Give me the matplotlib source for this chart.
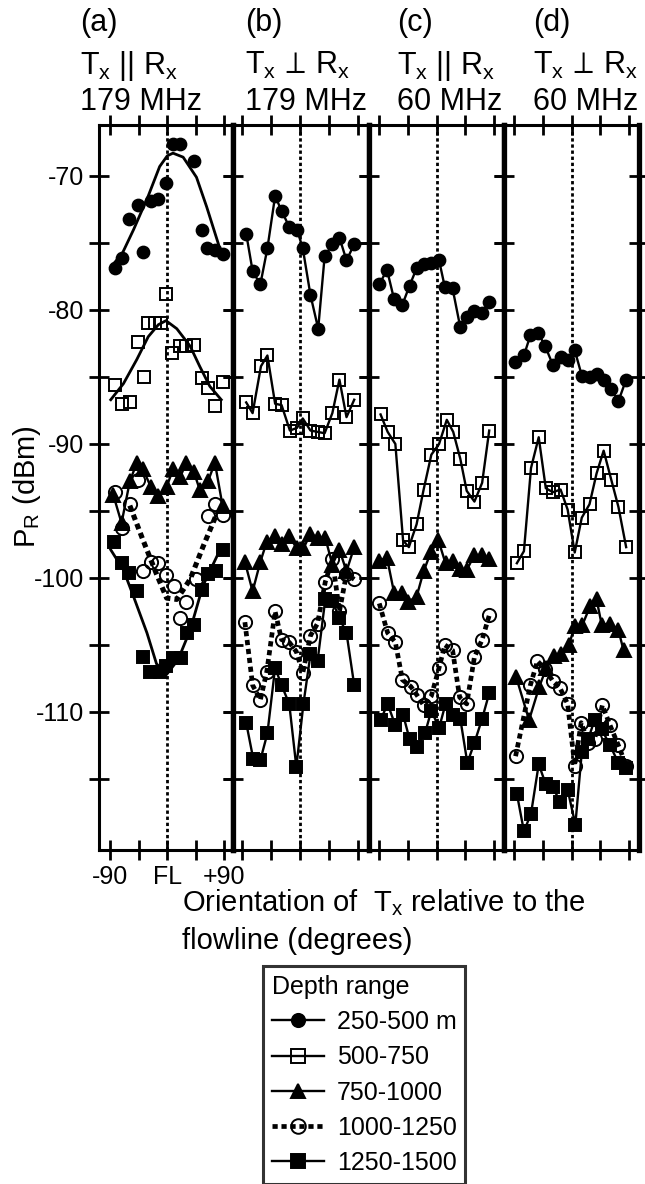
import matplotlib
matplotlib.use('Agg')
import matplotlib.pyplot as plt
from matplotlib.lines import Line2D

plt.rcParams['font.family'] = ['Liberation Sans', 'DejaVu Sans']
plt.rcParams['mathtext.fontset'] = 'custom'
plt.rcParams['mathtext.rm'] = 'Liberation Sans'
plt.rcParams['mathtext.it'] = 'Liberation Sans:italic'
plt.rcParams['mathtext.bf'] = 'Liberation Sans:bold'

# ---- data: (orientation deg, P_R dBm) ----
depths = ['250-500 m', '500-750', '750-1000', '1000-1250', '1250-1500']

# panel (a)  Tx || Rx, 179 MHz
a_250 = [(-82, -76.9), (-71, -76.1), (-60, -73.2), (-46, -72.2), (-38, -75.7), (-26, -71.9),
         (-14, -71.7), (-2, -70.5), (9, -67.6), (20, -67.6), (42, -68.9), (54, -74.0),
         (63, -75.4), (75, -75.5), (87, -75.8)]
a_500 = [(-82, -85.6), (-72, -87.0), (-59, -86.9), (-46, -82.4), (-37, -85.0), (-30, -81.0),
         (-19, -81.0), (-10, -81.0), (-2, -78.8), (8, -83.2), (20, -82.7), (30, -82.7),
         (42, -82.6), (54, -85.1), (64, -85.8), (75, -87.2), (87, -85.4)]
a_750 = [(-85, -93.8), (-72, -95.9), (-59, -92.8), (-48, -91.4), (-38, -91.9), (-26, -93.2),
         (-14, -93.9), (-1, -93.2), (9, -91.9), (20, -92.5), (30, -91.4), (42, -92.1),
         (51, -93.4), (64, -92.8), (75, -91.4), (87, -94.6)]
a_1000 = [(-82, -93.6), (-72, -96.3), (-59, -94.5), (-46, -92.7), (-38, -99.5), (-26, -98.8),
          (-14, -98.9), (-2, -99.8), (10, -100.6), (20, -103.0), (30, -101.8), (45, -100.1),
          (64, -95.4), (75, -94.5), (87, -95.3)]
a_1250 = [(-84, -97.3), (-71, -98.9), (-60, -99.6), (-48, -101.0), (-38, -105.9), (-27, -107.0),
          (-12, -107.0), (-2, -106.6), (9, -106.0), (21, -106.0), (31, -104.1), (42, -103.5),
          (54, -100.9), (64, -99.7), (76, -99.5), (87, -97.9)]
# fitted curves in panel (a)
a_fit_250 = [(-89, -76.8), (-71, -75.8), (-53, -74.0), (-30, -71.5), (-12, -69.3), (0, -68.5),
             (9, -68.3), (25, -68.6), (46, -70.1), (62, -72.3), (80, -75.0), (85, -75.8)]
a_fit_500 = [(-89, -86.7), (-69, -85.5), (-48, -83.7), (-30, -82.0), (-14, -81.1), (-2, -80.8),
             (15, -81.4), (36, -82.7), (51, -84.2), (67, -85.7), (85, -86.7)]
a_fit_1000 = [(-59, -94.6), (-38, -97.2), (-17, -99.7), (-1, -101.5), (15, -101.6), (36, -100.1),
              (56, -97.7), (78, -95.2)]
a_fit_1250 = [(-89, -97.9), (-69, -99.4), (-53, -101.4), (-32, -104.1), (-17, -106.4), (-1, -107.2),
              (17, -106.1), (36, -103.9), (56, -100.6), (78, -98.4)]

# panel (b)  Tx perp Rx, 179 MHz
b_250 = [(-84, -74.3), (-74, -77.1), (-62, -78.1), (-51, -75.4), (-39, -71.5), (-29, -72.6),
         (-17, -73.8), (-5, -74.0), (4, -75.4), (16, -78.9), (28, -81.4), (38, -76.0),
         (50, -75.1), (61, -74.6), (72, -76.3), (84, -75.1)]
b_500 = [(-84, -86.9), (-74, -87.7), (-61, -84.2), (-51, -83.4), (-39, -87.0), (-29, -87.1),
         (-16, -89.0), (-5, -88.8), (4, -88.1), (16, -89.0), (27, -89.1), (38, -89.2),
         (50, -87.7), (61, -85.2), (72, -88.0), (84, -86.7)]
b_750 = [(-86, -98.8), (-74, -101.0), (-62, -98.8), (-52, -97.3), (-39, -96.9), (-29, -97.5),
         (-17, -96.9), (-5, -97.8), (5, -97.8), (16, -96.7), (27, -97.0), (39, -97.0),
         (50, -99.0), (61, -97.9), (72, -99.5), (84, -97.7)]
b_1000 = [(-86, -103.3), (-74, -108.0), (-62, -109.1), (-52, -107.0), (-39, -102.5), (-29, -104.6),
          (-17, -104.8), (-6, -105.5), (4, -107.1), (16, -104.3), (27, -103.4), (39, -100.3),
          (50, -98.6), (61, -102.5), (72, -99.7), (84, -100.1)]
b_1250 = [(-84, -110.8), (-73, -113.5), (-62, -113.6), (-51, -111.6), (-39, -106.7), (-29, -108.0),
          (-17, -109.4), (-6, -114.1), (5, -109.4), (16, -105.7), (27, -106.2), (39, -101.6),
          (50, -101.7), (61, -103.0), (72, -104.1), (84, -108.0)]

# panel (c)  Tx || Rx, 60 MHz
c_250 = [(-89, -78.1), (-77, -77.0), (-66, -79.2), (-53, -79.6), (-42, -78.2), (-31, -76.9),
         (-20, -76.6), (-8, -76.5), (4, -76.3), (13, -78.3), (25, -78.4), (37, -81.3),
         (47, -80.5), (59, -80.1), (71, -80.2), (82, -79.4)]
c_500 = [(-87, -87.8), (-76, -89.1), (-64, -90.0), (-52, -97.2), (-43, -97.7), (-31, -96.0),
         (-20, -93.4), (-8, -90.8), (4, -90.0), (16, -88.2), (26, -89.1), (37, -91.1),
         (47, -93.5), (59, -94.3), (71, -92.9), (82, -89.0)]
c_750 = [(-89, -98.7), (-77, -98.5), (-66, -101.1), (-54, -101.1), (-45, -101.8), (-31, -101.4),
         (-20, -99.5), (-9, -98.1), (3, -97.2), (14, -98.9), (25, -98.7), (36, -99.3),
         (47, -99.4), (59, -98.3), (71, -98.3), (82, -98.6)]
c_1000 = [(-89, -101.9), (-76, -104.1), (-64, -104.8), (-53, -107.6), (-40, -108.1), (-31, -108.7),
          (-20, -109.5), (-8, -108.8), (4, -106.7), (13, -105.0), (25, -105.4), (36, -108.9),
          (47, -109.4), (59, -105.9), (71, -104.6), (82, -102.8)]
c_1250 = [(-87, -110.6), (-76, -109.4), (-64, -111.0), (-52, -110.2), (-42, -112.0), (-31, -112.6),
          (-18, -111.6), (-8, -109.9), (4, -111.2), (14, -109.4), (26, -110.2), (37, -110.5),
          (48, -113.8), (59, -112.3), (71, -110.5), (82, -108.6)]

# panel (d)  Tx perp Rx, 60 MHz
d_250 = [(-88, -83.9), (-74, -83.4), (-64, -81.9), (-52, -81.7), (-41, -82.7), (-29, -84.1),
         (-17, -83.5), (-6, -83.7), (5, -83.0), (16, -84.9), (28, -85.0), (39, -84.8),
         (50, -85.2), (62, -85.9), (73, -86.8), (85, -85.2)]
d_500 = [(-85, -98.9), (-74, -98.0), (-63, -91.8), (-51, -89.5), (-40, -93.3), (-29, -93.6),
         (-17, -93.4), (-6, -94.9), (5, -98.1), (16, -95.5), (28, -94.5), (39, -92.2),
         (50, -90.5), (62, -92.7), (73, -94.7), (85, -97.7)]
d_750 = [(-86, -107.4), (-66, -110.6), (-50, -108.1), (-39, -106.7), (-27, -105.8), (-16, -105.7),
         (-4, -105.0), (5, -103.6), (17, -103.5), (29, -102.1), (39, -101.6), (47, -103.5),
         (60, -103.4), (73, -103.9), (81, -105.4)]
d_1000 = [(-87, -113.3), (-64, -108.0), (-53, -106.2), (-41, -106.8), (-29, -107.7), (-18, -108.2),
          (-6, -109.4), (5, -114.0), (15, -110.8), (26, -112.3), (36, -112.0), (48, -109.5),
          (60, -111.0), (73, -112.5), (85, -114.0)]
d_1250 = [(-85, -116.1), (-74, -118.9), (-63, -117.6), (-51, -113.9), (-40, -115.4), (-29, -115.6),
          (-18, -116.7), (-6, -115.8), (6, -118.4), (16, -113.0), (26, -112.0), (36, -110.6),
          (47, -111.3), (60, -112.5), (73, -113.8), (85, -114.2)]

heads = ['(a)', '(b)', '(c)', '(d)']
par = r'T$_\mathregular{x}$ || R$_\mathregular{x}$'
perp = r'T$_\mathregular{x}\,\perp\,$R$_\mathregular{x}$'
pols = [par, perp, par, perp]
freqs = ['179 MHz', '179 MHz', '60 MHz', '60 MHz']

dotted = (0, (1.1, 0.8))
styles = [dict(marker='o', mfc='k', ls='-', lw=1.7, ms=8.5),
          dict(marker='s', mfc='none', ls='-', lw=1.7, ms=9),
          dict(marker='^', mfc='k', ls='-', lw=1.7, ms=9.5),
          dict(marker='o', mfc='none', ls=dotted, lw=3.4, ms=9.5),
          dict(marker='s', mfc='k', ls='-', lw=1.7, ms=8.5)]

W, H = 645, 1184
fig = plt.figure(figsize=(W / 100, H / 100), dpi=100)

edges = [99, 233, 369, 504, 639]
top_px, bot_px = 125, 850
xlims = [(-107.5, 103.5), (-104.5, 107), (-105, 105), (-105, 105)]
head_x = [80, 245, 397, 533]

panels = [[a_250, a_500, a_750, a_1000, a_1250], [b_250, b_500, b_750, b_1000, b_1250],
          [c_250, c_500, c_750, c_1000, c_1250], [d_250, d_500, d_750, d_1000, d_1250]]
fits_a = {0: a_fit_250, 1: a_fit_500, 3: a_fit_1000, 4: a_fit_1250}

for i in range(4):
    ax = fig.add_axes([edges[i] / W, 1 - bot_px / H, (edges[i + 1] - edges[i]) / W, (bot_px - top_px) / H])
    ax.set_xlim(*xlims[i])
    ax.set_ylim(-120.3, -66.2)
    ax.axvline(0, color='k', lw=2.0, ls=(0, (1.2, 1.0)), zorder=1)
    for k, pts in enumerate(panels[i]):
        s = styles[k]
        x, y = zip(*pts)
        line = not (i == 0 and k in fits_a)
        ax.plot(x, y, color='k', ls=s['ls'] if line else 'none', lw=s['lw'], marker=s['marker'],
                ms=s['ms'], mfc=s['mfc'], mec='k', mew=1.4, zorder=3)
        if not line:
            fx, fy = zip(*fits_a[k])
            ax.plot(fx, fy, color='k', ls=s['ls'], lw=s['lw'] + 0.3, zorder=2)
    ax.set_xticks([-90, -45, 0, 45, 90])
    ax.set_yticks([-70, -80, -90, -100, -110])
    ax.set_yticks([-75, -85, -95, -105, -115], minor=True)
    ax.tick_params(axis='both', which='both', direction='inout', length=15, width=2.0,
                   top=True, bottom=True, left=True, right=True, labelsize=18, pad=3)
    if i == 0:
        ax.set_xticklabels(['-90', '', 'FL', '', '+90'])
        ax.set_yticklabels(['-70', '-80', '-90', '-100', '-110'])
    else:
        ax.set_xticklabels([])
        ax.set_yticklabels([])
    for side in ['top', 'bottom']:
        ax.spines[side].set_linewidth(2.2)
    ax.spines['left'].set_linewidth(2.2 if i == 0 else 3.8)
    ax.spines['right'].set_linewidth(3.8)

    hx = head_x[i] / W
    fig.text(hx, 1 - 31 / H, heads[i], fontsize=22, ha='left', va='baseline')
    fig.text(hx, 1 - 74 / H, pols[i], fontsize=22, ha='left', va='baseline')
    fig.text(hx, 1 - 110 / H, freqs[i], fontsize=22, ha='left', va='baseline')

fig.text(27 / W, 1 - 487 / H, r'P$_\mathregular{R}$ (dBm)', rotation=90, fontsize=21, ha='center', va='center')
fig.text(182 / W, 1 - 903 / H, r'Orientation of  T$_\mathregular{x}$ relative to the', fontsize=21,
         ha='left', va='center')
fig.text(182 / W, 1 - 941 / H, 'flowline (degrees)', fontsize=21, ha='left', va='center')

handles = [Line2D([], [], color='k', ls=s['ls'], lw=s['lw'], marker=s['marker'], ms=s['ms'] + 1,
                  mfc=s['mfc'], mec='k', mew=1.4) for s in styles]
leg = fig.legend(handles, depths, loc='upper left', bbox_to_anchor=(263 / W, 1 - 966 / H),
                 title='Depth range', fontsize=18, title_fontsize=18, frameon=True, fancybox=False,
                 edgecolor='k', handlelength=2.1, handletextpad=0.5, borderpad=0.35,
                 labelspacing=0.45, borderaxespad=0, alignment='left')
leg.get_frame().set_linewidth(2.2)

fig.savefig('out.png', dpi=100)
